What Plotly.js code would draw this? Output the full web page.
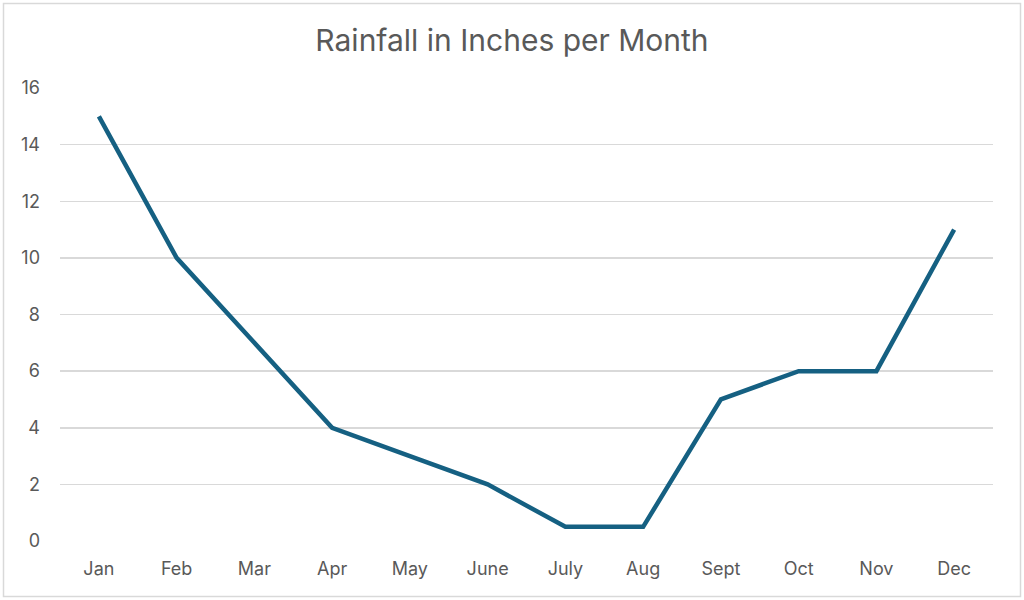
<!DOCTYPE html>
<html>
<head>
<meta charset="utf-8">
<script src="https://cdn.plot.ly/plotly-3.0.1.min.js"></script>
<style>html,body{margin:0;padding:0;background:#fff;}#chart{width:1024px;height:600px;}</style>
</head>
<body>
<div id="chart"></div>
<script>
const months = ["Jan","Feb","Mar","Apr","May","June","July","Aug","Sept","Oct","Nov","Dec"];
const rainfall = [15, 10, 7, 4, 3, 2, 0.5, 0.5, 5, 6, 6, 11];
const yTicks = [0, 2, 4, 6, 8, 10, 12, 14, 16];

const W = 1024, H = 600, ml = 60, mr = 31, mt = 88, mb = 59;
const pw = W - ml - mr, ph = H - mt - mb;
const px = v => (v - ml) / pw;
const py = v => (H - mb - v) / ph;

const trace = {
  x: months, y: rainfall, type: "scatter", mode: "lines",
  line: {color: "#156082", width: 4.5}, hoverinfo: "skip"
};
const layout = {
  width: W, height: H,
  margin: {l: ml, r: mr, t: mt, b: mb, pad: 0},
  paper_bgcolor: "#fff", plot_bgcolor: "#fff",
  font: {family: "Inter, 'Open Sans', sans-serif", color: "#595959", size: 18},
  title: {text: "Rainfall in Inches per Month", x: 0.5, xref: "container", y: 1 - 40/H, yanchor: "middle",
          font: {size: 30, color: "#595959", family: "Inter, 'Open Sans', sans-serif"}},
  showlegend: false,
  xaxis: {type: "category", range: [-0.5, 11.5], showgrid: false, zeroline: false, showline: false,
          ticks: "", ticklabelstandoff: 15, tickfont: {size: 18, color: "#595959"}, fixedrange: true},
  yaxis: {range: [0, 16], tickvals: yTicks, ticktext: yTicks.map(String), showgrid: true,
          gridcolor: "#d9d9d9", gridwidth: 1.5, zeroline: false, showline: false, ticks: "",
          ticklabelstandoff: 19, tickfont: {size: 18, color: "#595959"}, fixedrange: true},
  shapes: [{type: "rect", xref: "paper", yref: "paper",
            x0: px(3.5), x1: px(1020.5), y0: py(596.5), y1: py(3.5),
            line: {color: "#d9d9d9", width: 1.5}, layer: "below"}]
};
Plotly.newPlot("chart", [trace], layout, {displayModeBar: false, staticPlot: true});
</script>
</body>
</html>
